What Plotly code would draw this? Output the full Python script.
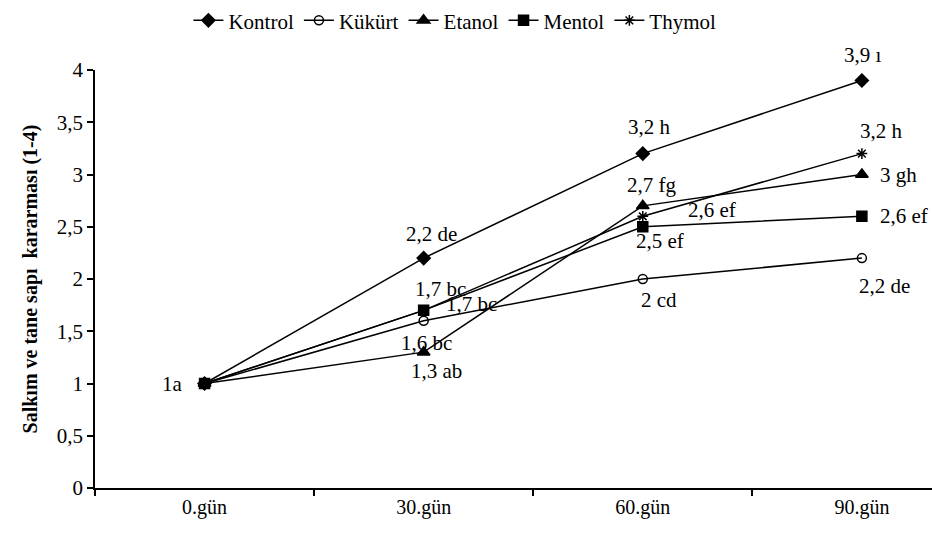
import plotly.graph_objects as go

categories = ["0.gün", "30.gün", "60.gün", "90.gün"]
series_names = ["Kontrol", "Kükürt", "Etanol", "Mentol", "Thymol"]
kontrol = [1.0, 2.2, 3.2, 3.9]
kukurt = [1.0, 1.6, 2.0, 2.2]
etanol = [1.0, 1.3, 2.7, 3.0]
mentol = [1.0, 1.7, 2.5, 2.6]
thymol = [1.0, 1.7, 2.6, 3.2]

labels_kontrol = ["1a", "2,2 de", "3,2 h", "3,9 ı"]
labels_kukurt = ["", "1,6 bc", "2 cd", "2,2 de"]
labels_etanol = ["", "1,3 ab", "2,7 fg", "3 gh"]
labels_mentol = ["", "1,7 bc", "2,5 ef", "2,6 ef"]
labels_thymol = ["", "1,7 bc", "2,6 ef", "3,2 h"]

y_ticks = [0, 0.5, 1, 1.5, 2, 2.5, 3, 3.5, 4]
y_ticktext = ["0", "0,5", "1", "1,5", "2", "2,5", "3", "3,5", "4"]

FONT = "Liberation Serif"

values = [kontrol, kukurt, etanol, mentol, thymol]
labels = [labels_kontrol, labels_kukurt, labels_etanol, labels_mentol, labels_thymol]
symbols = ["diamond", "circle-open", "triangle-up", "square", "asterisk-open"]
msizes = [10, 9, 11, 10, 9]
# label offsets in pixels (dx, dy down-positive), per series per point
offsets = [
    [(-32, 0), (8, -24), (7, -27), (1, -25)],
    [(0, 0), (3, 22), (16, 21), (23, 28)],
    [(0, 0), (13, 19), (9, -21), (37, 0)],
    [(0, 0), (17, -21), (17, 14), (42, 0)],
    [(0, 0), (48, -6), (69, -6), (20, -23)],
]

fig = go.Figure()
for name, vals, sym, ms in zip(series_names, values, symbols, msizes):
    fig.add_trace(go.Scatter(
        x=categories, y=vals, name=name, mode="lines+markers",
        line=dict(color="black", width=1.5),
        marker=dict(symbol=sym, size=ms, color="black",
                    line=dict(color="black", width=1.5)),
    ))

annotations = []
for vals, labs, offs in zip(values, labels, offsets):
    for cat, v, lab, (dx, dy) in zip(categories, vals, labs, offs):
        if not lab:
            continue
        annotations.append(dict(
            x=cat, y=v, xref="x", yref="y", text=lab, showarrow=False,
            xshift=dx, yshift=-dy, xanchor="center", yanchor="middle",
            font=dict(family=FONT, size=21, color="black"),
        ))

fig.update_layout(
    width=932, height=545,
    margin=dict(l=95, r=0, t=65, b=57),
    paper_bgcolor="white", plot_bgcolor="white",
    font=dict(family=FONT, size=21, color="black"),
    showlegend=True,
    legend=dict(orientation="h", x=0.43, xanchor="center", y=1.118, yanchor="middle",
                font=dict(family=FONT, size=21, color="black"),
                itemwidth=30, tracegroupgap=0, bgcolor="rgba(0,0,0,0)"),
    annotations=annotations,
    xaxis=dict(type="category", categoryorder="array", categoryarray=categories,
               range=[-0.5, 3.32], showline=True, linecolor="black", linewidth=1.5,
               ticks="outside", tickson="boundaries", ticklen=6, tickwidth=1.5,
               tickcolor="black", showgrid=False, zeroline=False,
               tickfont=dict(family=FONT, size=20, color="black")),
    yaxis=dict(range=[0, 4], tickvals=y_ticks, ticktext=y_ticktext,
               showline=True, linecolor="black", linewidth=1.5,
               ticks="outside", ticklen=6, tickwidth=1.5, tickcolor="black",
               showgrid=False, zeroline=False,
               tickfont=dict(family=FONT, size=21, color="black"),
               title=dict(text="<b>Salkım ve tane sapı  kararması (1-4)</b>",
                          font=dict(family=FONT, size=20, color="black"),
                          standoff=14)),
)

fig.write_html("out.html")
